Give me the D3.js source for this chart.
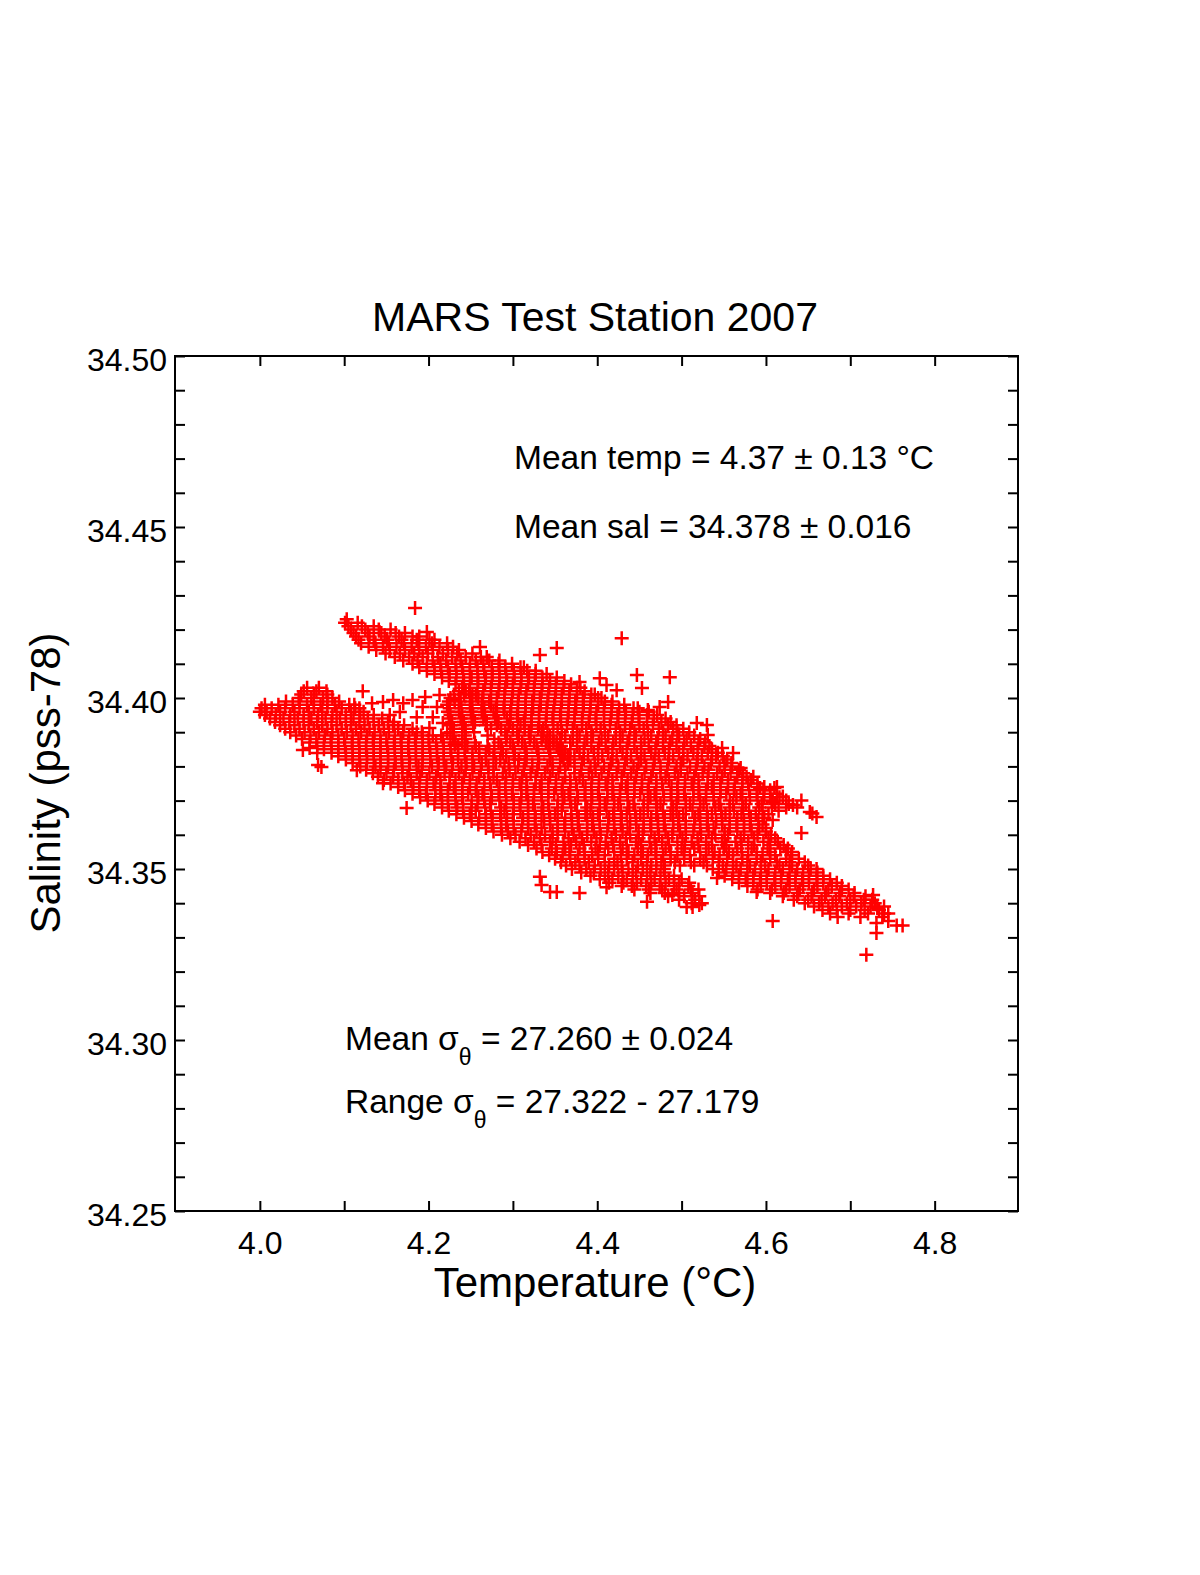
<!DOCTYPE html>
<html>
<head>
<meta charset="utf-8">
<script src="https://cdn.jsdelivr.net/npm/d3@7"></script>
<style>
html, body { margin: 0; padding: 0; background: #fff; overflow: hidden; }
svg { display: block; font-family: "Liberation Sans", Arial, sans-serif; }
</style>
</head>
<body>
<svg id="chart" width="1200" height="1575"></svg>
<script>
// axis ticks
const xTicks = [4.0, 4.1, 4.2, 4.3, 4.4, 4.5, 4.6, 4.7, 4.8];
const xLabels = [4.0, 4.2, 4.4, 4.6, 4.8];
const yTicks = [34.25, 34.26, 34.27, 34.28, 34.29, 34.30, 34.31, 34.32, 34.33, 34.34, 34.35, 34.36, 34.37,
  34.38, 34.39, 34.40, 34.41, 34.42, 34.43, 34.44, 34.45, 34.46, 34.47, 34.48, 34.49, 34.50];
const yLabels = [34.25, 34.30, 34.35, 34.40, 34.45, 34.50];

const northRows = [
  [34.423, [4.103]],
  [34.422, [4.101, 4.116]],
  [34.421, [4.105, 4.121, 4.135]],
  [34.420, [4.108, 4.125, 4.141, 4.155]],
  [34.419, [4.111, 4.128, 4.144, 4.161, 4.172]],
  [34.418, [4.114, 4.130, 4.148, 4.165, 4.181, 4.189]],
  [34.417, [4.117, 4.135, 4.151, 4.168, 4.186, 4.201, 4.207]],
  [34.416, [4.120, 4.137, 4.153, 4.171, 4.188, 4.204, 4.222]],
  [34.415, [4.129, 4.146, 4.162, 4.180, 4.197, 4.213, 4.229]],
  [34.414, [4.138, 4.154, 4.172, 4.189, 4.205, 4.223, 4.236]],
  [34.413, [4.149, 4.166, 4.183, 4.199, 4.217, 4.234, 4.252]],
  [34.412, [4.160, 4.177, 4.193, 4.211, 4.228, 4.244, 4.262, 4.269]],
  [34.411, [4.170, 4.187, 4.205, 4.221, 4.238, 4.256, 4.272, 4.284]],
  [34.410, [4.181, 4.198, 4.214, 4.232, 4.249, 4.265, 4.283, 4.299]],
  [34.409, [4.189, 4.207, 4.223, 4.240, 4.258, 4.275, 4.291, 4.309, 4.313]],
  [34.408, [4.198, 4.215, 4.233, 4.249, 4.266, 4.284, 4.301, 4.317, 4.327]],
  [34.407, [4.207, 4.225, 4.241, 4.258, 4.276, 4.292, 4.310, 4.327, 4.340]],
  [34.406, [4.216, 4.233, 4.251, 4.268, 4.284, 4.302, 4.319, 4.335, 4.352]],
  [34.405, [4.224, 4.242, 4.259, 4.275, 4.293, 4.310, 4.326, 4.344, 4.361]],
  [34.404, [4.232, 4.249, 4.267, 4.284, 4.300, 4.318, 4.335, 4.351, 4.369]],
  [34.403, [4.240, 4.258, 4.274, 4.291, 4.309, 4.325, 4.343, 4.360, 4.376, 4.380]],
  [34.402, [4.248, 4.265, 4.283, 4.300, 4.316, 4.334, 4.351, 4.367, 4.385]],
  [34.401, [4.256, 4.274, 4.290, 4.307, 4.325, 4.342, 4.358, 4.376, 4.393, 4.397]],
  [34.400, [4.264, 4.281, 4.299, 4.315, 4.332, 4.350, 4.367, 4.383, 4.401, 4.405]],
  [34.399, [4.272, 4.290, 4.306, 4.323, 4.341, 4.358, 4.374, 4.392, 4.409, 4.418]],
  [34.398, [4.281, 4.298, 4.315, 4.333, 4.349, 4.366, 4.384, 4.401, 4.417, 4.432]],
  [34.397, [4.289, 4.306, 4.324, 4.340, 4.357, 4.375, 4.392, 4.408, 4.426, 4.443, 4.448]],
  [34.396, [4.297, 4.315, 4.331, 4.348, 4.366, 4.383, 4.399, 4.417, 4.434, 4.450, 4.461]],
  [34.395, [4.305, 4.322, 4.340, 4.356, 4.373, 4.391, 4.408, 4.424, 4.442, 4.459, 4.471]],
  [34.394, [4.314, 4.331, 4.347, 4.365, 4.382, 4.398, 4.416, 4.433, 4.449, 4.467, 4.481]],
  [34.393, [4.322, 4.339, 4.357, 4.373, 4.390, 4.408, 4.425, 4.441, 4.459, 4.476, 4.487]],
  [34.392, [4.331, 4.348, 4.364, 4.382, 4.399, 4.415, 4.433, 4.450, 4.466, 4.484, 4.494]],
  [34.391, [4.336, 4.353, 4.371, 4.387, 4.404, 4.422, 4.439, 4.455, 4.473, 4.490, 4.502]],
  [34.390, [4.341, 4.358, 4.376, 4.393, 4.409, 4.427, 4.444, 4.460, 4.478, 4.495, 4.509]],
  [34.389, [4.344, 4.362, 4.379, 4.395, 4.413, 4.430, 4.446, 4.464, 4.481, 4.497, 4.515]],
  [34.388, [4.348, 4.356, 4.371, 4.388, 4.405, 4.422, 4.438, 4.456, 4.472, 4.489, 4.506, 4.522]],
  [34.387, [4.352, 4.368, 4.385, 4.402, 4.419, 4.436, 4.452, 4.470, 4.486, 4.503, 4.520, 4.528]],
  [34.386, [4.357, 4.376, 4.393, 4.410, 4.427, 4.444, 4.461, 4.478, 4.494, 4.511, 4.527, 4.533]],
  [34.385, [4.359, 4.368, 4.384, 4.401, 4.418, 4.435, 4.452, 4.469, 4.485, 4.502, 4.519, 4.536]],
  [34.384, [4.362, 4.379, 4.396, 4.413, 4.430, 4.447, 4.464, 4.480, 4.497, 4.514, 4.531, 4.543]],
  [34.383, [4.365, 4.373, 4.389, 4.406, 4.423, 4.440, 4.456, 4.473, 4.490, 4.507, 4.524, 4.541, 4.549]],
  [34.382, [4.368, 4.384, 4.401, 4.418, 4.435, 4.452, 4.468, 4.485, 4.502, 4.519, 4.536, 4.554]]
];

const southRows = [
  [34.403, [4.056, 4.070]],
  [34.402, [4.052, 4.067, 4.079]],
  [34.401, [4.049, 4.064, 4.080]],
  [34.400, [4.046, 4.061, 4.075, 4.086]],
  [34.399, [4.031, 4.047, 4.064, 4.080, 4.094]],
  [34.398, [4.006, 4.022, 4.039, 4.056, 4.072, 4.089, 4.106, 4.112]],
  [34.397, [4.002, 4.014, 4.030, 4.047, 4.064, 4.080, 4.097, 4.113, 4.118]],
  [34.396, [4.000, 4.008, 4.024, 4.041, 4.058, 4.074, 4.091, 4.108, 4.123]],
  [34.395, [4.006, 4.019, 4.036, 4.052, 4.069, 4.086, 4.102, 4.119, 4.135]],
  [34.394, [4.012, 4.028, 4.045, 4.061, 4.078, 4.095, 4.111, 4.128, 4.145]],
  [34.393, [4.018, 4.035, 4.052, 4.068, 4.085, 4.102, 4.118, 4.135, 4.152, 4.159]],
  [34.392, [4.024, 4.041, 4.058, 4.074, 4.091, 4.108, 4.124, 4.141, 4.158, 4.171]],
  [34.391, [4.030, 4.047, 4.064, 4.080, 4.097, 4.114, 4.130, 4.147, 4.164, 4.181]],
  [34.390, [4.036, 4.053, 4.070, 4.086, 4.103, 4.120, 4.136, 4.153, 4.170, 4.186, 4.192]],
  [34.389, [4.043, 4.060, 4.077, 4.093, 4.110, 4.127, 4.143, 4.160, 4.177, 4.193, 4.205]],
  [34.388, [4.050, 4.067, 4.084, 4.100, 4.117, 4.134, 4.150, 4.167, 4.184, 4.200, 4.217]],
  [34.387, [4.059, 4.076, 4.093, 4.109, 4.126, 4.143, 4.159, 4.176, 4.193, 4.209, 4.226, 4.232]],
  [34.386, [4.068, 4.085, 4.101, 4.118, 4.135, 4.151, 4.168, 4.185, 4.201, 4.218, 4.235, 4.246]],
  [34.385, [4.076, 4.093, 4.110, 4.126, 4.143, 4.160, 4.176, 4.193, 4.210, 4.226, 4.243, 4.260]],
  [34.384, [4.085, 4.102, 4.118, 4.135, 4.152, 4.168, 4.185, 4.202, 4.218, 4.235, 4.252, 4.268, 4.278]],
  [34.383, [4.093, 4.110, 4.127, 4.143, 4.160, 4.177, 4.193, 4.210, 4.227, 4.243, 4.260, 4.277, 4.292]],
  [34.382, [4.102, 4.118, 4.135, 4.152, 4.168, 4.185, 4.202, 4.218, 4.235, 4.252, 4.268, 4.285, 4.302, 4.307]]
];

const gapRows = [
  [34.402, [4.236, 4.244]],
  [34.401, [4.230, 4.242, 4.252]],
  [34.400, [4.226, 4.238, 4.250, 4.259]],
  [34.399, [4.224, 4.237, 4.250, 4.264]],
  [34.398, [4.222, 4.236, 4.249, 4.263, 4.274]],
  [34.397, [4.225, 4.239, 4.252, 4.266, 4.280]],
  [34.396, [4.223, 4.236, 4.250, 4.263, 4.277, 4.290]],
  [34.395, [4.226, 4.240, 4.253, 4.267, 4.281, 4.297]],
  [34.394, [4.224, 4.238, 4.251, 4.265, 4.279, 4.293, 4.306]],
  [34.393, [4.228, 4.242, 4.255, 4.269, 4.283, 4.297, 4.313]],
  [34.392, [4.226, 4.240, 4.253, 4.268, 4.281, 4.295, 4.309, 4.322]],
  [34.391, [4.230, 4.244, 4.274, 4.286, 4.300, 4.314, 4.330]],
  [34.390, [4.226, 4.240, 4.254, 4.291, 4.305, 4.319, 4.334]],
  [34.389, [4.215, 4.229, 4.243, 4.270, 4.293, 4.307, 4.321, 4.336]],
  [34.388, [4.230, 4.244, 4.278, 4.292, 4.306, 4.320, 4.334, 4.344]],
  [34.387, [4.240, 4.255, 4.283, 4.297, 4.311, 4.325, 4.339, 4.348]],
  [34.386, [4.256, 4.270, 4.286, 4.300, 4.314, 4.328, 4.342, 4.352]],
  [34.385, [4.272, 4.287, 4.301, 4.315, 4.329, 4.343, 4.354]],
  [34.384, [4.288, 4.302, 4.316, 4.330, 4.344, 4.356]],
  [34.383, [4.302, 4.316, 4.330, 4.344, 4.358]],
  [34.382, [4.316, 4.330, 4.344, 4.360]]
];

const coreRows = [
  [34.381, [4.110, 4.127, 4.143, 4.161, 4.178, 4.193, 4.212, 4.229, 4.245, 4.263, 4.280, 4.295, 4.314, 4.331, 4.347, 4.365, 4.382, 4.397, 4.416, 4.433, 4.449, 4.467, 4.484, 4.499, 4.518, 4.535, 4.551, 4.559]],
  [34.380, [4.119, 4.137, 4.152, 4.169, 4.188, 4.204, 4.221, 4.239, 4.254, 4.271, 4.290, 4.306, 4.323, 4.341, 4.356, 4.373, 4.392, 4.408, 4.425, 4.443, 4.458, 4.475, 4.494, 4.510, 4.527, 4.545, 4.560]],
  [34.379, [4.126, 4.143, 4.159, 4.177, 4.192, 4.211, 4.228, 4.244, 4.262, 4.277, 4.296, 4.313, 4.329, 4.347, 4.362, 4.381, 4.398, 4.414, 4.432, 4.447, 4.466, 4.483, 4.499, 4.517, 4.532, 4.551, 4.568]],
  [34.378, [4.134, 4.150, 4.169, 4.186, 4.201, 4.219, 4.236, 4.252, 4.271, 4.288, 4.303, 4.321, 4.338, 4.354, 4.373, 4.390, 4.405, 4.423, 4.440, 4.456, 4.475, 4.492, 4.507, 4.525, 4.542, 4.558, 4.573]],
  [34.377, [4.140, 4.158, 4.175, 4.190, 4.209, 4.225, 4.242, 4.260, 4.277, 4.292, 4.311, 4.327, 4.344, 4.362, 4.379, 4.394, 4.413, 4.429, 4.446, 4.464, 4.481, 4.496, 4.515, 4.531, 4.548, 4.566, 4.577]],
  [34.376, [4.147, 4.164, 4.179, 4.198, 4.214, 4.232, 4.249, 4.266, 4.281, 4.300, 4.316, 4.334, 4.351, 4.368, 4.383, 4.402, 4.418, 4.436, 4.453, 4.470, 4.485, 4.504, 4.520, 4.538, 4.555, 4.572, 4.582]],
  [34.375, [4.155, 4.171, 4.189, 4.206, 4.225, 4.240, 4.257, 4.273, 4.291, 4.308, 4.327, 4.342, 4.359, 4.375, 4.393, 4.410, 4.429, 4.444, 4.461, 4.477, 4.495, 4.512, 4.531, 4.546, 4.563, 4.579, 4.590]],
  [34.374, [4.164, 4.182, 4.198, 4.215, 4.230, 4.249, 4.266, 4.284, 4.300, 4.317, 4.332, 4.351, 4.368, 4.386, 4.402, 4.419, 4.434, 4.453, 4.470, 4.488, 4.504, 4.521, 4.536, 4.555, 4.572, 4.590, 4.598]],
  [34.373, [4.172, 4.189, 4.208, 4.223, 4.240, 4.256, 4.274, 4.291, 4.310, 4.325, 4.342, 4.358, 4.376, 4.393, 4.412, 4.427, 4.444, 4.460, 4.478, 4.495, 4.514, 4.529, 4.546, 4.562, 4.580, 4.597, 4.605]],
  [34.372, [4.181, 4.197, 4.214, 4.232, 4.247, 4.264, 4.283, 4.299, 4.316, 4.334, 4.349, 4.366, 4.385, 4.401, 4.418, 4.436, 4.451, 4.468, 4.487, 4.503, 4.520, 4.538, 4.553, 4.570, 4.589, 4.605, 4.613]],
  [34.371, [4.190, 4.208, 4.223, 4.240, 4.259, 4.275, 4.292, 4.310, 4.325, 4.342, 4.361, 4.377, 4.394, 4.412, 4.427, 4.444, 4.463, 4.479, 4.496, 4.514, 4.529, 4.546, 4.565, 4.581, 4.598, 4.616]],
  [34.370, [4.199, 4.216, 4.232, 4.251, 4.266, 4.284, 4.301, 4.318, 4.334, 4.353, 4.368, 4.386, 4.403, 4.420, 4.436, 4.455, 4.470, 4.488, 4.505, 4.522, 4.538, 4.557, 4.572, 4.590, 4.607, 4.624]],
  [34.369, [4.207, 4.223, 4.241, 4.258, 4.273, 4.292, 4.308, 4.324, 4.342, 4.359, 4.374, 4.393, 4.409, 4.425, 4.443, 4.460, 4.475, 4.494, 4.510, 4.526, 4.544, 4.561, 4.576, 4.595, 4.611, 4.627]],
  [34.368, [4.216, 4.234, 4.251, 4.267, 4.286, 4.301, 4.318, 4.336, 4.353, 4.369, 4.388, 4.403, 4.420, 4.438, 4.455, 4.471, 4.490, 4.505, 4.522, 4.540, 4.557, 4.573, 4.592, 4.607, 4.624]],
  [34.367, [4.224, 4.241, 4.256, 4.274, 4.290, 4.309, 4.326, 4.343, 4.358, 4.376, 4.392, 4.411, 4.428, 4.445, 4.460, 4.478, 4.494, 4.513, 4.530, 4.547, 4.562, 4.580, 4.596, 4.615]],
  [34.366, [4.233, 4.249, 4.268, 4.285, 4.300, 4.318, 4.334, 4.350, 4.369, 4.386, 4.401, 4.419, 4.435, 4.451, 4.470, 4.487, 4.502, 4.520, 4.536, 4.552, 4.571, 4.588, 4.603]],
  [34.365, [4.242, 4.260, 4.276, 4.293, 4.312, 4.327, 4.344, 4.362, 4.378, 4.395, 4.414, 4.429, 4.446, 4.464, 4.480, 4.497, 4.516, 4.531, 4.548, 4.566, 4.582, 4.598]],
  [34.364, [4.251, 4.268, 4.286, 4.301, 4.318, 4.337, 4.353, 4.370, 4.388, 4.403, 4.420, 4.439, 4.455, 4.472, 4.490, 4.505, 4.522, 4.541, 4.557, 4.574, 4.591]],
  [34.363, [4.259, 4.275, 4.292, 4.311, 4.326, 4.344, 4.361, 4.377, 4.394, 4.413, 4.428, 4.446, 4.463, 4.479, 4.496, 4.515, 4.530, 4.548, 4.565, 4.581, 4.596]],
  [34.362, [4.268, 4.286, 4.301, 4.318, 4.334, 4.353, 4.370, 4.388, 4.403, 4.420, 4.436, 4.455, 4.472, 4.490, 4.505, 4.522, 4.538, 4.557, 4.574, 4.592, 4.600]],
  [34.361, [4.277, 4.294, 4.310, 4.328, 4.347, 4.362, 4.379, 4.396, 4.412, 4.430, 4.449, 4.464, 4.481, 4.498, 4.514, 4.532, 4.551, 4.566, 4.583, 4.600]],
  [34.360, [4.287, 4.303, 4.321, 4.338, 4.353, 4.372, 4.388, 4.404, 4.422, 4.439, 4.454, 4.473, 4.489, 4.505, 4.523, 4.540, 4.555, 4.574, 4.590, 4.606]],
  [34.359, [4.297, 4.315, 4.332, 4.347, 4.366, 4.382, 4.399, 4.417, 4.434, 4.449, 4.468, 4.484, 4.501, 4.519, 4.536, 4.551, 4.570, 4.586, 4.603, 4.611]],
  [34.358, [4.308, 4.325, 4.344, 4.360, 4.375, 4.393, 4.410, 4.427, 4.446, 4.462, 4.477, 4.495, 4.512, 4.529, 4.548, 4.564, 4.579, 4.597, 4.614]],
  [34.357, [4.318, 4.334, 4.351, 4.369, 4.384, 4.403, 4.419, 4.435, 4.452, 4.470, 4.485, 4.504, 4.520, 4.536, 4.553, 4.571, 4.586, 4.605, 4.621]],
  [34.356, [4.328, 4.346, 4.362, 4.379, 4.398, 4.413, 4.430, 4.448, 4.464, 4.481, 4.500, 4.515, 4.532, 4.550, 4.566, 4.583, 4.602, 4.617, 4.626]],
  [34.355, [4.335, 4.352, 4.367, 4.385, 4.401, 4.420, 4.437, 4.454, 4.469, 4.487, 4.503, 4.522, 4.539, 4.556, 4.571, 4.589, 4.605, 4.624, 4.631]],
  [34.354, [4.343, 4.359, 4.377, 4.394, 4.409, 4.428, 4.444, 4.460, 4.478, 4.495, 4.510, 4.529, 4.545, 4.561, 4.579, 4.596, 4.611, 4.630]],
  [34.353, [4.350, 4.368, 4.385, 4.401, 4.420, 4.435, 4.452, 4.470, 4.487, 4.503, 4.522, 4.537, 4.554, 4.572, 4.589, 4.605, 4.624, 4.639]],
  [34.352, [4.357, 4.374, 4.390, 4.409, 4.424, 4.442, 4.459, 4.476, 4.492, 4.511, 4.526, 4.544, 4.561, 4.578, 4.594, 4.613, 4.628, 4.646]],
  [34.351, [4.363, 4.379, 4.397, 4.414, 4.429, 4.448, 4.464, 4.480, 4.498, 4.515, 4.530, 4.549, 4.565, 4.581, 4.599, 4.616, 4.631, 4.650]]
];

const southTailRows = [
  [34.350, [4.370, 4.387, 4.404, 4.420, 4.437, 4.454, 4.470, 4.479]],
  [34.349, [4.381, 4.396, 4.413, 4.430, 4.446, 4.463, 4.480]],
  [34.348, [4.392, 4.409, 4.425, 4.442, 4.459, 4.475, 4.491]],
  [34.347, [4.403, 4.418, 4.435, 4.452, 4.468, 4.485, 4.500]],
  [34.346, [4.414, 4.431, 4.447, 4.464, 4.481, 4.497, 4.509]],
  [34.345, [4.429, 4.441, 4.458, 4.474, 4.491, 4.508]],
  [34.344, [4.444, 4.461, 4.477, 4.494, 4.511, 4.520]],
  [34.343, [4.463, 4.480, 4.497, 4.513]],
  [34.342, [4.484, 4.503, 4.521]],
  [34.341, [4.497, 4.516]],
  [34.340, [4.512, 4.524]]
];

const eastTailRows = [
  [34.350, [4.537, 4.553, 4.570, 4.587, 4.603, 4.620, 4.637, 4.653, 4.660]],
  [34.349, [4.544, 4.561, 4.578, 4.594, 4.611, 4.628, 4.644, 4.661]],
  [34.348, [4.551, 4.568, 4.585, 4.601, 4.618, 4.635, 4.651, 4.668]],
  [34.347, [4.560, 4.576, 4.593, 4.610, 4.626, 4.643, 4.660, 4.676]],
  [34.346, [4.568, 4.585, 4.601, 4.618, 4.635, 4.651, 4.668, 4.684]],
  [34.345, [4.578, 4.594, 4.611, 4.628, 4.644, 4.661, 4.678, 4.690]],
  [34.344, [4.590, 4.607, 4.624, 4.640, 4.657, 4.674, 4.690, 4.698]],
  [34.343, [4.605, 4.621, 4.638, 4.655, 4.671, 4.688, 4.705]],
  [34.342, [4.620, 4.637, 4.654, 4.670, 4.687, 4.704, 4.718]],
  [34.341, [4.633, 4.650, 4.666, 4.683, 4.700, 4.716, 4.726]],
  [34.340, [4.646, 4.663, 4.679, 4.696, 4.713, 4.729]],
  [34.339, [4.657, 4.674, 4.690, 4.707, 4.724, 4.740]],
  [34.338, [4.667, 4.684, 4.700, 4.717, 4.734]],
  [34.337, [4.676, 4.698, 4.721, 4.745]],
  [34.336, [4.685, 4.712, 4.738]]
];

// isolated crosses: [temperature, salinity]
const strays = [
  [4.184, 34.4263], [4.198, 34.4193], [4.261, 34.4149], [4.332, 34.4126], [4.352, 34.4146],
  [4.429, 34.4175], [4.447, 34.4067], [4.486, 34.4061], [4.379, 34.4047], [4.403, 34.4058],
  [4.453, 34.4029], [4.423, 34.4023], [4.411, 34.4038], [4.474, 34.3974], [4.484, 34.3988],
  [4.460, 34.3965], [4.518, 34.3927], [4.530, 34.3921], [4.531, 34.3892], [4.548, 34.3854],
  [4.561, 34.3839], [4.593, 34.3737], [4.610, 34.3737], [4.608, 34.3696], [4.632, 34.3687],
  [4.652, 34.3667], [4.660, 34.3652], [4.642, 34.3605], [4.613, 34.3740], [4.637, 34.3680],
  [4.655, 34.3662], [4.608, 34.3643], [4.570, 34.3795], [4.585, 34.3770], [4.620, 34.3712],
  [4.642, 34.3700],
  [4.332, 34.3477], [4.334, 34.3453], [4.344, 34.3433], [4.352, 34.3433], [4.379, 34.3430],
  [4.411, 34.3447], [4.459, 34.3404], [4.489, 34.3424], [4.506, 34.3389], [4.513, 34.3389],
  [4.521, 34.3395], [4.542, 34.3474], [4.589, 34.3433], [4.608, 34.3348], [4.727, 34.3424],
  [4.732, 34.3386], [4.731, 34.3342], [4.731, 34.3313], [4.755, 34.3335], [4.762, 34.3335],
  [4.719, 34.3249], [4.745, 34.3348], [4.740, 34.3370],
  [4.051, 34.3848], [4.059, 34.3854], [4.068, 34.3839], [4.073, 34.3798], [4.069, 34.3804],
  [4.115, 34.3789], [4.146, 34.3751], [4.174, 34.3678], [4.122, 34.4020],
  [4.146, 34.3988], [4.158, 34.3994], [4.170, 34.3985], [4.181, 34.3994], [4.193, 34.3974],
  [4.210, 34.3974], [4.186, 34.3944], [4.205, 34.3944], [4.217, 34.3927], [4.201, 34.3912],
  [4.225, 34.3959], [4.166, 34.3959], [4.154, 34.3950], [4.222, 34.3898], [4.231, 34.3863],
  [4.133, 34.3985], [4.196, 34.4003], [4.213, 34.4009], [4.231, 34.3994]
];

const svg = d3.select('#chart');
const frameLeft = 175;
const frameRight = 1018;
const frameTop = 356;
const frameBottom = 1211;

const x = d3.scaleLinear().domain([3.9, 4.9]).range([175.5, 1019]);
const y = d3.scaleLinear().domain([34.25, 34.50]).range([frameBottom, frameTop]);

const sameValue = (a, b) => Math.abs(a - b) < 1e-9;

svg.append('text')
  .attr('x', 595)
  .attr('y', 331)
  .attr('text-anchor', 'middle')
  .attr('font-size', 41)
  .text('MARS Test Station 2007');

const rowPoints = rows => rows.flatMap(([sal, temps]) => temps.map(temp => ({ temp, sal })));
const points = [
  ...rowPoints(northRows),
  ...rowPoints(southRows),
  ...rowPoints(gapRows),
  ...rowPoints(coreRows),
  ...rowPoints(southTailRows),
  ...rowPoints(eastTailRows),
  ...strays.map(([temp, sal]) => ({ temp, sal }))
];

svg.append('g')
  .attr('fill', 'none')
  .attr('stroke', '#ff0000')
  .attr('stroke-width', 2.5)
  .selectAll('path')
  .data(points)
  .join('path')
  .attr('d', 'M-7,0H7M0,-7V7')
  .attr('transform', d => `translate(${x(d.temp)},${y(d.sal)})`);

// frame and inward ticks
svg.append('rect')
  .attr('x', frameLeft)
  .attr('y', frameTop)
  .attr('width', frameRight - frameLeft)
  .attr('height', frameBottom - frameTop)
  .attr('fill', 'none')
  .attr('stroke', '#000')
  .attr('stroke-width', 2);

const styleAxis = g => {
  g.select('.domain').remove();
  g.selectAll('.tick line').attr('stroke', '#000').attr('stroke-width', 2);
  g.selectAll('.tick text')
    .attr('fill', '#000')
    .attr('font-size', 32)
    .attr('font-family', '"Liberation Sans", Arial, sans-serif');
};

svg.append('g')
  .attr('transform', `translate(0,${frameBottom})`)
  .call(d3.axisBottom(x)
    .tickValues(xTicks)
    .tickSizeInner(-10)
    .tickSizeOuter(0)
    .tickPadding(20)
    .tickFormat(d => xLabels.some(v => sameValue(v, d)) ? d3.format('.1f')(d) : ''))
  .call(styleAxis);

svg.append('g')
  .attr('transform', `translate(0,${frameTop})`)
  .call(d3.axisTop(x).tickValues(xTicks).tickSizeInner(-10).tickSizeOuter(0).tickFormat(''))
  .call(styleAxis);

svg.append('g')
  .attr('transform', `translate(${frameLeft},0)`)
  .call(d3.axisLeft(y)
    .tickValues(yTicks)
    .tickSizeInner(-10)
    .tickSizeOuter(0)
    .tickPadding(8)
    .tickFormat(d => yLabels.some(v => sameValue(v, d)) ? d3.format('.2f')(d) : ''))
  .call(styleAxis)
  .call(g => g.selectAll('.tick text').attr('dy', '0.45em'));

svg.append('g')
  .attr('transform', `translate(${frameRight},0)`)
  .call(d3.axisRight(y).tickValues(yTicks).tickSizeInner(-10).tickSizeOuter(0).tickFormat(''))
  .call(styleAxis);

svg.append('text')
  .attr('x', 595)
  .attr('y', 1297)
  .attr('text-anchor', 'middle')
  .attr('font-size', 42)
  .text('Temperature (\u00b0C)');

svg.append('text')
  .attr('transform', 'translate(60,783) rotate(-90)')
  .attr('text-anchor', 'middle')
  .attr('font-size', 42)
  .text('Salinity (pss-78)');

// statistics annotations
const note = (xPos, yPos) => svg.append('text')
  .attr('x', xPos)
  .attr('y', yPos)
  .attr('font-size', 33.5)
  .style('white-space', 'pre');

note(514, 469).text('Mean temp = 4.37 \u00b1 0.13 \u00b0C');
note(514, 538).text('Mean sal = 34.378 \u00b1 0.016');

const sigmaNote = (xPos, yPos, label, rest) => {
  const t = note(xPos, yPos);
  t.append('tspan').text(label + ' \u03c3');
  t.append('tspan').attr('font-size', 23).attr('dy', 15).text('\u03b8');
  t.append('tspan').attr('dy', -15).text(' = ' + rest);
};
sigmaNote(345, 1050, 'Mean', '27.260 \u00b1 0.024');
sigmaNote(345, 1113, 'Range', '27.322 - 27.179');
</script>
</body>
</html>
